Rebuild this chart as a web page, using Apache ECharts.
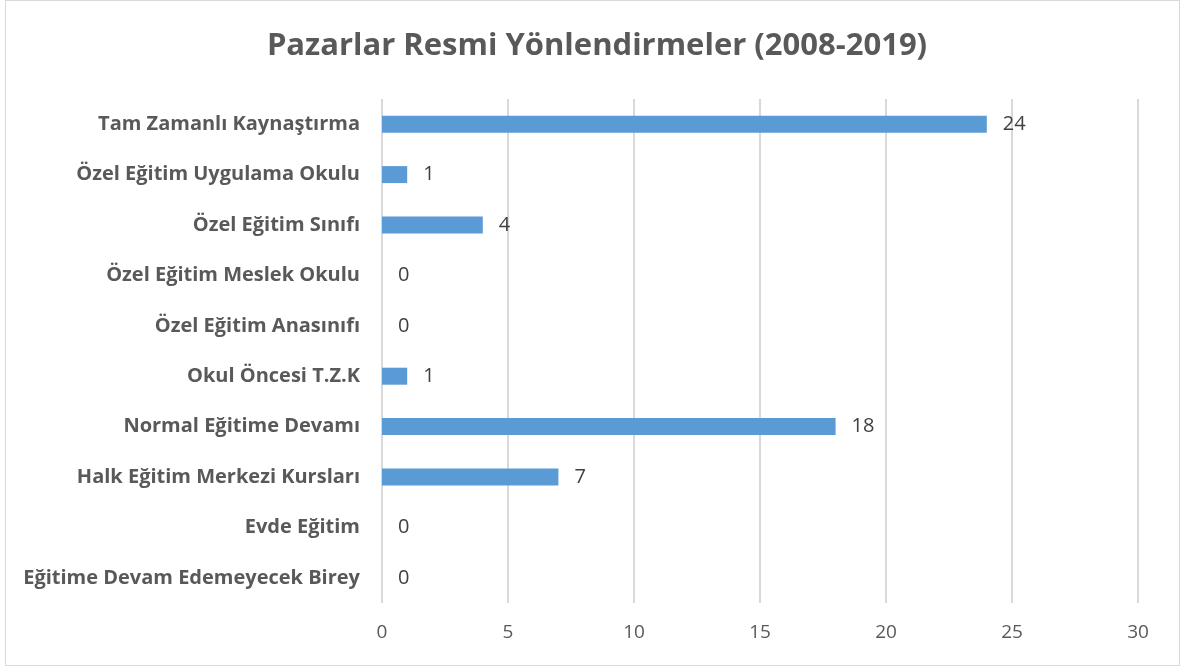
<!DOCTYPE html>
<html>
<head>
<meta charset="utf-8">
<script src="https://cdn.jsdelivr.net/npm/echarts@6/dist/echarts.min.js"></script>
<style>
  html, body { margin: 0; padding: 0; background: #fff; }
  #chart { width: 1198px; height: 668px; }
  #frame { position: absolute; left: 5px; top: 0px; width: 1173px; height: 664px; border: 1px solid #d9d9d9; pointer-events: none; }
</style>
</head>
<body>
<div id="chart"></div>
<div id="frame"></div>
<script>
// kategoriler (yukaridan asagiya)
var categories = [
    'Tam Zamanlı Kaynaştırma',
    'Özel Eğitim Uygulama Okulu',
    'Özel Eğitim Sınıfı',
    'Özel Eğitim Meslek Okulu',
    'Özel Eğitim Anasınıfı',
    'Okul Öncesi T.Z.K',
    'Normal Eğitime Devamı',
    'Halk Eğitim Merkezi Kursları',
    'Evde Eğitim',
    'Eğitime Devam Edemeyecek Birey'
];
var values = [24, 1, 4, 0, 0, 1, 18, 7, 0, 0];
var xTicks = [0, 5, 10, 15, 20, 25, 30];

var font = 'Open Sans';
var myChart = echarts.init(document.getElementById('chart'));
var option = {
    animation: false,
    title: {
        text: 'Pazarlar Resmi Yönlendirmeler (2008-2019)',
        left: 592,
        textAlign: 'center',
        top: 26,
        textStyle: {
            fontFamily: font,
            fontSize: 31,
            fontWeight: 'bold',
            color: '#595959'
        }
    },
    grid: {
        left: 382,
        right: 60,
        top: 99,
        bottom: 65
    },
    xAxis: {
        type: 'value',
        min: xTicks[0],
        max: xTicks[xTicks.length - 1],
        interval: 5,
        axisLine: {show: false},
        axisTick: {show: false},
        splitLine: {lineStyle: {color: '#d9d9d9', width: 2}},
        axisLabel: {
            margin: 20,
            fontFamily: font,
            fontSize: 19,
            color: '#595959'
        }
    },
    yAxis: {
        type: 'category',
        inverse: true,
        data: categories,
        axisLine: {show: false},
        axisTick: {show: false},
        axisLabel: {
            margin: 22,
            fontFamily: font,
            fontSize: 20,
            fontWeight: 'bold',
            color: '#595959'
        }
    },
    series: [
        {
            type: 'bar',
            data: values,
            barWidth: 17,
            itemStyle: {color: '#5b9bd5'},
            label: {
                show: true,
                position: 'right',
                distance: 16,
                fontFamily: font,
                fontSize: 20,
                color: '#404040'
            }
        }
    ]
};
myChart.setOption(option);
</script>
</body>
</html>
